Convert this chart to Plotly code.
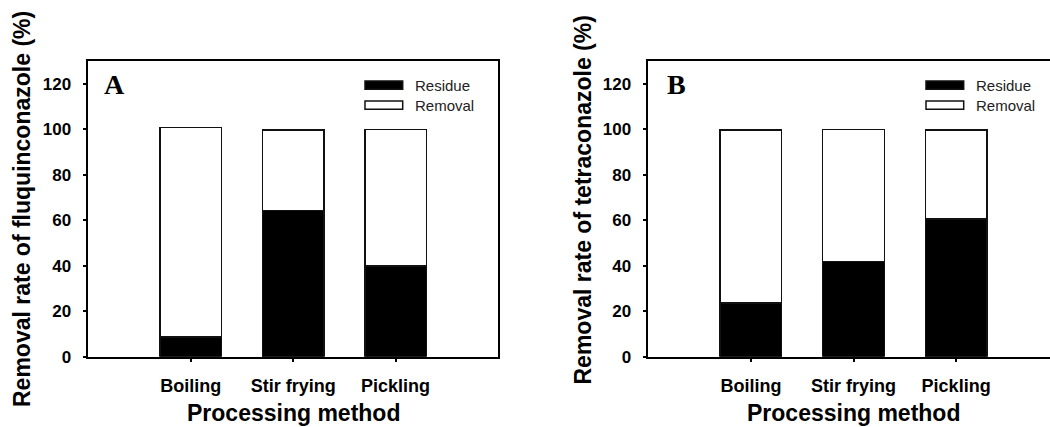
import plotly.graph_objects as go

categories = ["Boiling", "Stir frying", "Pickling"]
residue_A = [8.7, 64.2, 39.9]
removal_A = [92.0, 35.5, 59.9]
residue_B = [23.6, 41.9, 60.6]
removal_B = [76.1, 57.9, 39.1]
yticks = [0, 20, 40, 60, 80, 100, 120]
series_names = ["Residue", "Removal"]

W, H = 1050, 427      # target picture size (positions below are in these pixels)
FIG_H = 437           # page is photographed ~10 px taller than the window, then fitted to 427
def px(x):
    return x / W
def py(y):
    return 1 - y / H

fig = go.Figure()
bar_line = dict(color="#111111", width=1.5)
for xa, ya, res, rem in [("x", "y", residue_A, removal_A), ("x2", "y2", residue_B, removal_B)]:
    fig.add_trace(go.Bar(x=categories, y=res, name=series_names[0], marker=dict(color="black", line=bar_line),
                         width=0.6, xaxis=xa, yaxis=ya, showlegend=False))
    fig.add_trace(go.Bar(x=categories, y=rem, name=series_names[1], marker=dict(color="white", line=bar_line),
                         width=0.6, xaxis=xa, yaxis=ya, showlegend=False))

tickfont_x = dict(family="Liberation Sans, Arial", size=18, color="black", weight="bold")
tickfont_y = dict(family="Liberation Sans, Arial", size=17, color="black", weight="bold")
common_x = dict(type="category", showline=True, linecolor="black", linewidth=1.5, mirror=True,
                ticks="outside", ticklen=4, tickwidth=1.5, tickcolor="black", tickfont=tickfont_x,
                showgrid=False, zeroline=False, fixedrange=True, ticklabelstandoff=8)
common_y = dict(range=[0, 130], tickvals=yticks, showline=True, linecolor="black", linewidth=1.5,
                ticks="outside", ticklen=4, tickwidth=1.5, tickcolor="black", tickfont=tickfont_y,
                showgrid=False, zeroline=False, ticklabelstandoff=8)
ydom = [py(356.7), py(61)]
fig.update_layout(
    width=W, height=FIG_H, margin=dict(l=0, r=0, t=0, b=0),
    paper_bgcolor="white", plot_bgcolor="white", barmode="stack",
    xaxis=dict(common_x, domain=[px(88.3), px(498)], range=[-1, 3], anchor="y"),
    yaxis=dict(common_y, domain=ydom, mirror=True, anchor="x"),
    xaxis2=dict(common_x, domain=[px(648.3), 1.0], range=[-1, 2.915], anchor="y2"),
    yaxis2=dict(common_y, domain=ydom, mirror=False, anchor="x2"),
)

title_font = dict(family="Liberation Sans, Arial", size=23, color="black", weight="bold")
annots = [
    dict(text="Removal rate of fluquinconazole (%)", x=px(22), y=py(209), textangle=-90),
    dict(text="Removal rate of tetraconazole (%)", x=px(582.5), y=py(200), textangle=-90),
    dict(text="Processing method", x=px(293), y=py(413)),
    dict(text="Processing method", x=px(853), y=py(413)),
]
for a in annots:
    fig.add_annotation(xref="paper", yref="paper", xanchor="center", yanchor="middle",
                       showarrow=False, font=title_font, **a)

label_font = dict(family="Liberation Serif, Times New Roman", size=28, color="black", weight="bold")
for lab, xc in [("A", 114.5), ("B", 676.7)]:
    fig.add_annotation(text=lab, x=px(xc), y=py(84), xref="paper", yref="paper", xanchor="center",
                       yanchor="middle", showarrow=False, font=label_font)

leg_font = dict(family="Liberation Sans, Arial", size=15, color="#222222")
for x0 in [365, 926]:
    for i, (name, fill) in enumerate(zip(series_names, ["black", "white"])):
        y0 = 81 + i * 20
        fig.add_shape(type="rect", xref="paper", yref="paper", x0=px(x0), x1=px(x0 + 37.7),
                      y0=py(y0), y1=py(y0 + 8.3), fillcolor=fill, line=dict(color="#111111", width=1.5))
        fig.add_annotation(text=name, x=px(x0 + 47.5), y=py(y0 + 4.2), xref="paper", yref="paper",
                           xanchor="left", yanchor="middle", showarrow=False, font=leg_font)

post = "document.body.style.margin='0';document.body.style.overflow='hidden';"
fig.write_html("out.html", config={"displayModeBar": False}, post_script=post)
